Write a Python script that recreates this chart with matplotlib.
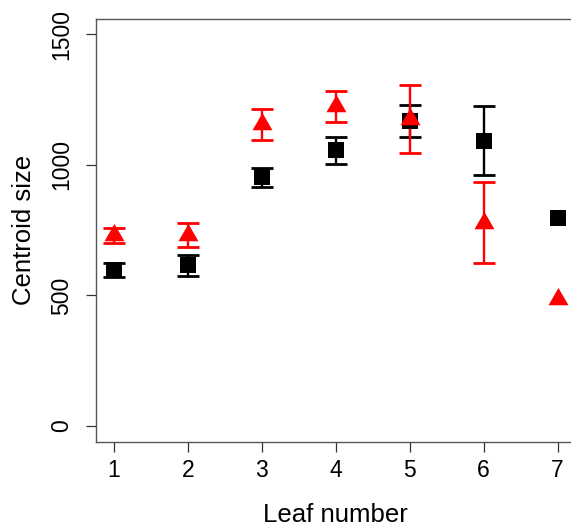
import numpy as np
import matplotlib
matplotlib.use("Agg")
import matplotlib.pyplot as plt

plt.rcParams['font.family'] = ['Liberation Sans', 'DejaVu Sans']

# Mean centroid size per leaf, with error half-widths (None = no bar)
leaf = [1, 2, 3, 4, 5, 6, 7]
black_mean = [597, 615, 953, 1056, 1168, 1093, 797]
black_err = [26, 40, 36, 52, 62, 131, None]
red_mean = [730, 732, 1155, 1224, 1177, 779, 487]
red_err = [30, 45, 60, 60, 130, 154, None]

y_ticks = [0, 500, 1000, 1500]


def draw_series(ax, means, errs, color, marker, size):
    xe = [x for x, e in zip(leaf, errs) if e is not None]
    ye = [m for m, e in zip(means, errs) if e is not None]
    ee = [e for e in errs if e is not None]
    ax.errorbar(xe, ye, yerr=ee, fmt='none', ecolor=color, elinewidth=1.7,
                capsize=8.2, capthick=2.0, zorder=2)
    ax.plot(leaf, means, linestyle='none', marker=marker, markersize=size,
            color=color, markeredgewidth=0, zorder=3)


fig = plt.figure(figsize=(5.71, 5.26), dpi=100)
ax = fig.add_axes([0.1685, 0.1602, 0.8392, 0.8044])

draw_series(ax, black_mean, black_err, 'black', 's', 11.5)
draw_series(ax, red_mean, red_err, '#ff0000', (3, 0, 0), 16.6)

ax.set_xlim(0.76, 7.24)
ax.set_ylim(-60, 1560)
ax.set_xticks(leaf)
ax.set_yticks(y_ticks)

for s in ax.spines.values():
    s.set_color('#555555')
    s.set_linewidth(1.0)

ax.tick_params(axis='both', direction='out', length=7.5, width=0.9,
               color='#333333', labelsize=16.5)
ax.tick_params(axis='x', pad=5)
ax.tick_params(axis='y', pad=9)
for lab in ax.get_yticklabels():
    lab.set_rotation(90)
    lab.set_va('center')

ax.set_xlabel('Leaf number', fontsize=18.5, labelpad=15)
ax.set_ylabel('Centroid size', fontsize=18.5, labelpad=10)

fig.savefig('out.png', dpi=100)
